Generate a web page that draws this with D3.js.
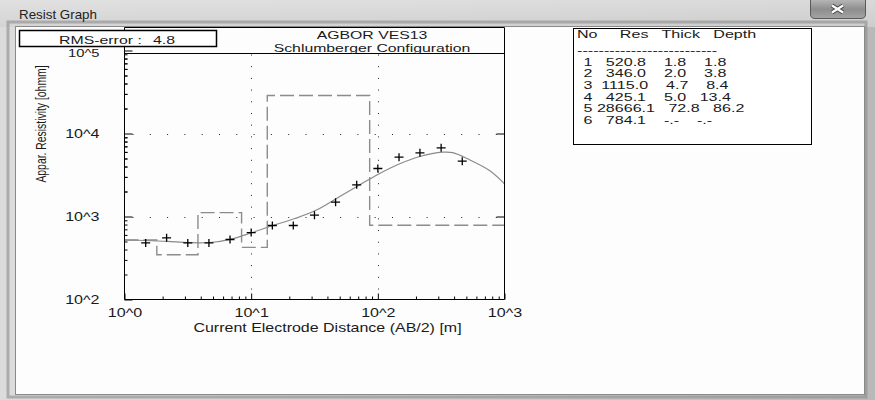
<!DOCTYPE html>
<html><head><meta charset="utf-8">
<script src="https://cdn.jsdelivr.net/npm/d3@7"></script>
<style>
html,body{margin:0;padding:0;background:#fff;overflow:hidden}
svg text{font-family:"Liberation Sans",Arial,sans-serif;fill:#1a1a1a}
</style></head><body>
<svg id="c" width="875" height="400"></svg>
<script>
// ---------------- data ----------------
const obsAB  = [1.47, 2.15, 3.16, 4.64, 6.81, 10, 14.7, 21.5, 31.6, 46.4, 68.1, 100, 147, 215, 316, 464];
const obsRho = [480, 554, 480, 480, 528, 641, 779, 779, 1037, 1486, 2410, 3786, 5180, 5852, 6725, 4636];
const curveAB  = [1, 1.46, 2.18, 3.19, 4.75, 6.96, 10.2, 14.9, 22.2, 33.1, 47.5, 68.4, 100, 149, 214, 325, 390, 530, 762, 1000];
const curveRho = [521, 514, 502, 484, 486, 535, 641, 779, 946, 1204, 1661, 2297, 3206, 4315, 5284, 5950, 5880, 4820, 3580, 2477];
const layerNo    = [1, 2, 3, 4, 5, 6];
const layerRes   = [520.8, 346.0, 1115.0, 425.1, 28666.1, 784.1];
const layerThick = [1.8, 2.0, 4.7, 5.0, 72.8];
const layerDepth = [1.8, 3.8, 8.4, 13.4, 86.2];
const xTickExp = [0, 1, 2, 3];
const yTickExp = [2, 3, 4, 5];
const tickPrefix = "10^";
const windowTitle = "Resist Graph";
const chartTitle = ["AGBOR VES13", "Schlumberger Configuration"];
const rmsLabel = "RMS-error :";
const rmsValue = 4.8;
const xLabel = "Current Electrode Distance (AB/2) [m]";
const yLabel = "Appar. Resistivity [ohmm]";
const tableHeader = ["No", "Res", "Thick", "Depth"];
const noValue = "-.-";

// ---------------- setup ----------------
const SX = 1.34;
const svg = d3.select("#c");
const defs = svg.append("defs");
function grad(id, stops, x2, y2) {
  const g = defs.append("linearGradient").attr("id", id).attr("x1", 0).attr("y1", 0).attr("x2", x2).attr("y2", y2);
  stops.forEach(s => g.append("stop").attr("offset", s[0]).attr("stop-color", s[1]));
}
grad("frameG", [[0, "#dcdcdc"], [0.5, "#cfcfcf"], [1, "#b9b9b9"]], 1, 0);
grad("titleG", [[0, "#e2e2e2"], [1, "#d2d2d2"]], 0, 1);
grad("btnG", [[0, "#b5b5b5"], [0.5, "#8e8e8e"], [1, "#a4a4a4"]], 0, 1);

function stext(g, str, x, y, opts = {}) {
  const t = g.append("text")
    .attr("transform", `translate(${x},${y}) scale(${opts.sx || SX},1)`)
    .attr("text-anchor", opts.anchor || "start")
    .style("font-size", (opts.size || 12) + "px")
    .text(str);
  if (opts.pre) t.style("white-space", "pre");
  if (opts.width) {
    const l = t.node().getComputedTextLength();
    t.attr("transform", `translate(${x},${y}) scale(${opts.width / l},1)`);
  }
  return t;
}

// ---------------- window chrome ----------------
svg.append("rect").attr("x", 0).attr("y", 0).attr("width", 875).attr("height", 400).attr("fill", "url(#frameG)");
svg.append("rect").attr("x", 0).attr("y", 0).attr("width", 875).attr("height", 27).attr("fill", "url(#titleG)").attr("opacity", 0.8);
svg.append("rect").attr("x", 8).attr("y", 22).attr("width", 858).attr("height", 375).attr("fill", "none")
  .attr("stroke", "#8c8c8c").attr("stroke-width", 3).attr("opacity", 0.6);
svg.append("rect").attr("x", 15.5).attr("y", 26.5).attr("width", 849).attr("height", 368)
  .attr("fill", "#fdfdfd").attr("stroke", "#8a8a8a");
stext(svg, windowTitle, 19, 19, { width: 78 }).style("fill", "#222");
// close button
svg.append("path").attr("d", "M810.5,0 V14 Q810.5,18.5 815,18.5 H861 Q865.5,18.5 865.5,14 V0")
  .attr("fill", "url(#btnG)").attr("stroke", "#5a5a5a");
svg.append("path").attr("d", "M832,5.5 L843,12.5 M843,5.5 L832,12.5").attr("stroke", "#444").attr("stroke-width", 4.2).attr("fill", "none");
svg.append("path").attr("d", "M832,5.5 L843,12.5 M843,5.5 L832,12.5").attr("stroke", "#fff").attr("stroke-width", 2.2).attr("fill", "none");

// ---------------- scales ----------------
const L = 124.5, R = 504.5, T = 27.5, B = 299.5, TL = 53.5;
const x = d3.scaleLog().domain([1, 1000]).range([L, R]);
const y = d3.scaleLog().domain([100, 1e5]).range([B, 50.5]);
const majX = xTickExp.map(e => Math.pow(10, e));
const majY = yTickExp.map(e => Math.pow(10, e));
const minX = [], minY = [];
majX.slice(0, -1).forEach(d => { for (let k = 2; k < 10; k++) minX.push(d * k); });
majY.slice(0, -1).forEach(d => { for (let k = 2; k < 10; k++) minY.push(d * k); });
const fmt = d => tickPrefix + Math.round(Math.log10(d));

const plot = svg.append("g");

// dotted grid
plot.selectAll(".gh").data(majY.slice(1, -1)).join("line")
  .attr("x1", L).attr("x2", R).attr("y1", d => Math.round(y(d)) + 0.5).attr("y2", d => Math.round(y(d)) + 0.5)
  .attr("stroke", "#222").attr("stroke-dasharray", "1,16.3").attr("stroke-dashoffset", -8);
plot.selectAll(".gv").data(majX.slice(1, -1)).join("line")
  .attr("y1", TL + 1).attr("y2", B).attr("x1", d => Math.round(x(d)) + 0.5).attr("x2", d => Math.round(x(d)) + 0.5)
  .attr("stroke", "#222").attr("stroke-dasharray", "1,10.7");

// model (dashed step)
const stepPts = [[1, layerRes[0]]];
layerDepth.forEach((d, i) => { stepPts.push([d, layerRes[i]]); stepPts.push([d, layerRes[i + 1]]); });
stepPts.push([1000, layerRes[layerRes.length - 1]]);
plot.append("path").datum(stepPts)
  .attr("d", d3.line().x(d => x(d[0])).y(d => y(d[1])))
  .attr("fill", "none").attr("stroke", "#8c8c8c").attr("stroke-width", 1.4).attr("stroke-dasharray", "14,5");

// calculated curve
plot.append("path").datum(curveAB.map((a, i) => [a, curveRho[i]]))
  .attr("d", d3.line().x(d => x(d[0])).y(d => y(d[1])).curve(d3.curveCatmullRom))
  .attr("fill", "none").attr("stroke", "#8a8a8a").attr("stroke-width", 1.2);

// observed crosses
plot.selectAll(".obs").data(obsAB.map((a, i) => [a, obsRho[i]])).join("path")
  .attr("transform", d => `translate(${x(d[0])},${y(d[1])})`)
  .attr("d", "M-4.5,0H4.5M0,-4V4").attr("stroke", "#000").attr("stroke-width", 1.3);

// frame
plot.append("path").attr("d", `M${L},${T}H${R}V${B}H${L}Z M${L},${TL}H${R}`)
  .attr("fill", "none").attr("stroke", "#000");

// axes
function styleAxis(g) {
  g.select(".domain").remove();
  g.selectAll("line").attr("stroke", "#000");
  g.attr("font-size", 12);
}
const gL = plot.append("g").attr("transform", `translate(${L},0)`)
  .call(d3.axisLeft(y).tickValues(majY).tickSizeInner(-8).tickSizeOuter(0).tickPadding(25).tickFormat(fmt));
styleAxis(gL);
gL.append("g").call(d3.axisLeft(y).tickValues(minY.concat(minY.map(v => v * 10).filter(v => y(v) > TL + 1))).tickSizeInner(-3).tickSizeOuter(0).tickFormat(""))
  .call(styleAxis);
const gR = plot.append("g").attr("transform", `translate(${R},0)`)
  .call(d3.axisRight(y).tickValues(majY.slice(1, -1)).tickSizeInner(-8).tickSizeOuter(0).tickFormat(""));
styleAxis(gR);
const gB = plot.append("g").attr("transform", `translate(0,${B})`)
  .call(d3.axisBottom(x).tickValues(majX).tickSizeInner(-6).tickSizeOuter(0).tickPadding(9).tickFormat(fmt));
styleAxis(gB);
gB.append("g").call(d3.axisBottom(x).tickValues(minX).tickSizeInner(-3).tickSizeOuter(0).tickFormat("")).call(styleAxis);
[gL, gB].forEach(g => g.selectAll("text").each(function () {
  const t = d3.select(this);
  const tx = +t.attr("x") || 0, ty = +t.attr("y") || 0;
  t.attr("x", 0).attr("y", 0).attr("transform", `translate(${tx},${ty}) scale(${SX},1)`).style("fill", "#1a1a1a");
}));
// keep the top label just clear of the RMS box
gL.selectAll(".tick").filter(d => d === majY[majY.length - 1]).select("text")
  .style("font-size", "11px").attr("dy", "0.55em");

// axis labels
stext(svg, xLabel, 327.5, 332, { anchor: "middle", size: 12, width: 268 });
svg.append("text").attr("transform", `translate(45.5,124) scale(${SX},1) rotate(-90)`)
  .attr("text-anchor", "middle").style("font-size", "10.4px").text(yLabel);

// titles
stext(svg, chartTitle[0], 372, 39, { anchor: "middle", size: 11.8 });
stext(svg, chartTitle[1], 372, 51.5, { anchor: "middle", size: 11.8 });

// RMS box
svg.append("rect").attr("x", 19.5).attr("y", 30.5).attr("width", 197).attr("height", 16)
  .attr("fill", "#fff").attr("stroke", "#000").attr("stroke-width", 1.5);
stext(svg, rmsLabel, 59, 43.5, { size: 11.5, sx: 1.38 });
stext(svg, rmsValue.toFixed(1), 153, 43.5, { size: 11.5, sx: 1.38 });

// layer table
svg.append("rect").attr("x", 573.5).attr("y", 28.5).attr("width", 238).attr("height", 116)
  .attr("fill", "#fff").attr("stroke", "#000");
const tg = svg.append("g");
const TS = 10.6, TSX = 12 * SX / TS;
const pads = [5, 3, 3];
let hdr = tableHeader[0];
tableHeader.slice(1).forEach((h, i) => { hdr += " ".repeat(pads[i]) + h; });
stext(tg, hdr, 577, 38, { pre: true, size: TS, sx: TSX });
stext(tg, "-".repeat(26), 577, 53.5, { width: 140, size: TS });
layerNo.forEach((n, i) => {
  const th = i < layerThick.length ? layerThick[i].toFixed(1) : noValue;
  const dp = i < layerDepth.length ? layerDepth[i].toFixed(1) : noValue;
  const row = String(n) + layerRes[i].toFixed(1).padStart(8, " ") + th.padStart(7, " ") + dp.padStart(7, " ");
  stext(tg, row, 583.5, 65.5 + i * 11.7, { pre: true, size: TS, sx: TSX });
});
</script>
</body></html>
